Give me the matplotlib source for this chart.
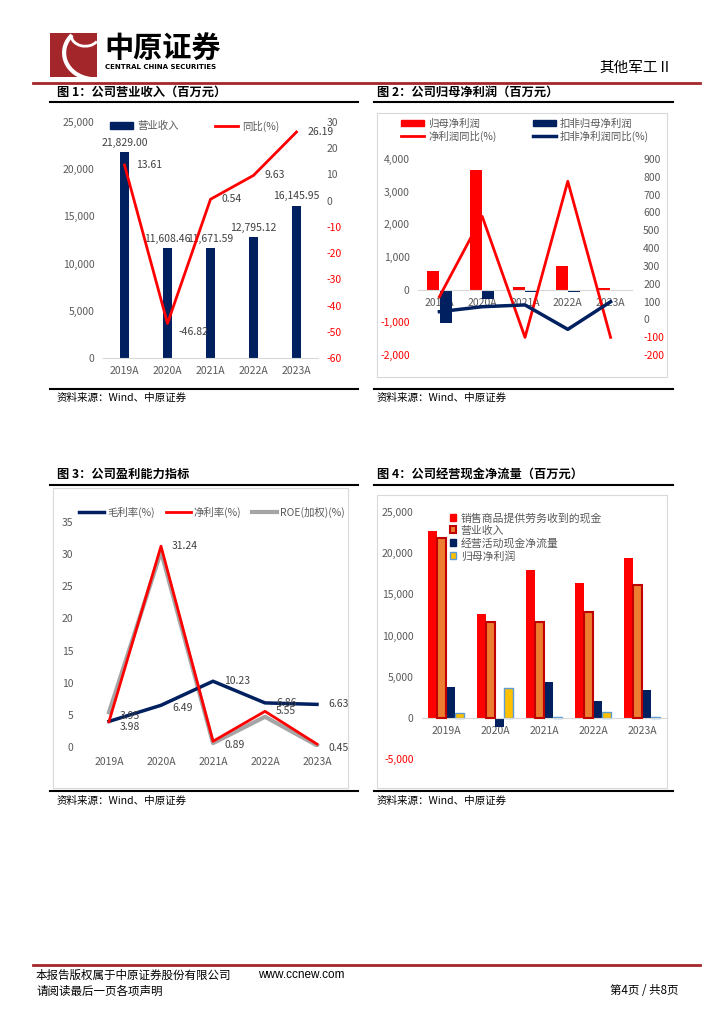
import matplotlib
matplotlib.use("Agg")
import matplotlib.pyplot as plt
from matplotlib.patches import Rectangle, Patch, Arc
from matplotlib.lines import Line2D
from matplotlib.ticker import FuncFormatter
import numpy as np

plt.rcParams['font.family'] = ['Noto Sans CJK SC', 'DejaVu Sans']
plt.rcParams['axes.unicode_minus'] = False

# ---- data ----
years = ["2019A", "2020A", "2021A", "2022A", "2023A"]

revenue = [21829.00, 11608.46, 11671.59, 12795.12, 16145.95]
revenue_yoy = [13.61, -46.82, 0.54, 9.63, 26.19]

net_profit = [560, 3670, 80, 710, 50]
net_profit_ded = [-1020, -290, -60, -80, -20]
net_profit_yoy = [127, 578, -101, 775, -101]
net_profit_ded_yoy = [43, 71, 81, -56, 99]

gross_margin = [3.98, 6.49, 10.23, 6.86, 6.63]
net_margin = [3.95, 31.24, 0.89, 5.55, 0.45]
roe = [5.4, 30.4, 0.6, 4.7, 0.25]

cash_from_sales = [22690, 12660, 18000, 16380, 19460]
op_cash_flow = [3720, -1090, 4370, 2020, 3320]

NAVY = '#002060'
RED = '#ff0000'
GRAY = '#595959'
DARKRED = '#a3262a'

W, H = 724, 1024
fig = plt.figure(figsize=(7.24, 10.24), dpi=100)


def fy(y):
    return 1 - y / H


def add_ax(x0, y0, x1, y1):
    return fig.add_axes([x0 / W, 1 - y1 / H, (x1 - x0) / W, (y1 - y0) / H])


def hline(x0, x1, y, color='black', lw=1.5):
    fig.add_artist(Line2D([x0 / W, x1 / W], [fy(y), fy(y)], color=color, lw=lw))


def frame(x0, y0, x1, y1):
    fig.add_artist(Rectangle((x0 / W, fy(y1)), (x1 - x0) / W, (y1 - y0) / H,
                             fill=False, ec='#d9d9d9', lw=0.8))


def txt(x, y, s, **kw):
    fig.text(x / W, fy(y), s, **kw)


def clean(ax, pad=4):
    for s in ax.spines.values():
        s.set_visible(False)
    ax.tick_params(length=0, labelsize=7.5, colors=GRAY, pad=pad)


def red_negatives(ax):
    for lab, v in zip(ax.get_yticklabels(), ax.get_yticks()):
        if v < 0:
            lab.set_color(RED)


thousands = FuncFormatter(lambda v, p: f'{v:,.0f}')
x = np.arange(len(years))

# ---- page header ----
logo = add_ax(50, 33, 97, 77)
logo.set_xlim(0, 1)
logo.set_ylim(0, 1)
logo.axis('off')
logo.add_patch(Rectangle((0, 0), 1, 1, color=DARKRED))
logo.add_patch(Arc((0.95, 0.55), 1.3, 1.2, theta1=140, theta2=260, color='white', lw=3))
logo.add_patch(Arc((0.75, 0.95), 0.6, 0.5, theta1=180, theta2=330, color='white', lw=2))
txt(104, 49, "中原证券", fontsize=21, fontweight='bold', va='center')
txt(105, 67, "CENTRAL CHINA SECURITIES", fontsize=5, fontweight='bold', va='center',
    family='DejaVu Sans')
txt(672, 68, "其他军工Ⅱ", fontsize=10.5, ha='right', va='center')
hline(33, 700, 83, DARKRED, 2)

# ---- titles / source lines ----
TS = 8.8
SS = 7.6
txt(57, 92, "图 1：公司营业收入（百万元）", fontsize=TS, fontweight='bold', va='center')
txt(377, 92, "图 2：公司归母净利润（百万元）", fontsize=TS, fontweight='bold', va='center')
hline(50, 358, 102)
hline(374, 673, 102)
hline(50, 358, 389)
hline(374, 673, 389)
txt(57, 398, "资料来源：Wind、中原证券", fontsize=SS, va='center')
txt(377, 398, "资料来源：Wind、中原证券", fontsize=SS, va='center')

txt(57, 474, "图 3：公司盈利能力指标", fontsize=TS, fontweight='bold', va='center')
txt(377, 474, "图 4：公司经营现金净流量（百万元）", fontsize=TS, fontweight='bold', va='center')
hline(50, 358, 485)
hline(374, 673, 485)
hline(50, 358, 791)
hline(374, 673, 791)
txt(57, 801, "资料来源：Wind、中原证券", fontsize=SS, va='center')
txt(377, 801, "资料来源：Wind、中原证券", fontsize=SS, va='center')

frame(377, 113, 667, 377)
frame(53, 488, 348, 788)
frame(377, 495, 667, 788)

# ---- chart 1 ----
ax1 = add_ax(103, 122, 318, 358)
ax1.bar(x, revenue, width=0.22, color=NAVY, zorder=2)
ax1.set_xlim(-0.5, 4.5)
ax1.set_ylim(0, 25000)
ax1.set_yticks(range(0, 25001, 5000))
ax1.yaxis.set_major_formatter(thousands)
ax1.set_xticks(x, years)
clean(ax1, pad=6)
ax1.spines['bottom'].set_visible(True)
ax1.spines['bottom'].set_color('#d9d9d9')
for i, v in enumerate(revenue):
    ax1.annotate(f'{v:,.2f}', (i, v), xytext=(0, 3), textcoords='offset points',
                 ha='center', va='bottom', fontsize=7.5, color='#404040')
ax1b = ax1.twinx()
ax1b.plot(x, revenue_yoy, color=RED, lw=2)
ax1b.set_ylim(-60, 30)
ax1b.set_yticks(range(-60, 31, 10))
clean(ax1b, pad=6)
red_negatives(ax1b)
for i, v in enumerate(revenue_yoy):
    dy = -6 if v < -20 else 0
    ax1b.annotate(f'{v:.2f}', (i, v), xytext=(8, dy), textcoords='offset points',
                  ha='left', va='center', fontsize=7.5, color='#404040')
ax1.legend([Patch(color=NAVY), Line2D([], [], color=RED, lw=2)], ["营业收入", "同比(%)"],
           loc='center', bbox_to_anchor=(195 / W, fy(126)), bbox_transform=fig.transFigure,
           ncol=2, frameon=False, fontsize=7.5, handlelength=2.2, handleheight=0.6,
           columnspacing=3.5, handletextpad=0.4, labelcolor=GRAY)

# ---- chart 2 ----
ax2 = add_ax(418, 159, 632, 355)
ax2.bar(x - 0.145, net_profit, width=0.28, color=RED, zorder=2)
ax2.bar(x + 0.145, net_profit_ded, width=0.28, color=NAVY, zorder=2)
ax2.set_xlim(-0.5, 4.5)
ax2.set_ylim(-2000, 4000)
ax2.set_yticks(range(-2000, 4001, 1000))
ax2.yaxis.set_major_formatter(thousands)
ax2.set_xticks(x, years)
clean(ax2, pad=6)
ax2.spines['bottom'].set_visible(True)
ax2.spines['bottom'].set_position(('data', 0))
ax2.spines['bottom'].set_color('#d9d9d9')
red_negatives(ax2)
ax2b = ax2.twinx()
ax2b.plot(x, net_profit_yoy, color=RED, lw=2)
ax2b.plot(x, net_profit_ded_yoy, color=NAVY, lw=2.5)
ax2b.set_ylim(-200, 900)
ax2b.set_yticks(range(-200, 901, 100))
clean(ax2b, pad=8)
red_negatives(ax2b)
ax2.legend([Patch(color=RED), Line2D([], [], color=RED, lw=2),
            Patch(color=NAVY), Line2D([], [], color=NAVY, lw=2.5)],
           ["归母净利润", "净利润同比(%)", "扣非归母净利润", "扣非净利润同比(%)"],
           loc='center', bbox_to_anchor=(525 / W, fy(130)), bbox_transform=fig.transFigure,
           ncol=2, frameon=False, fontsize=7.5, handlelength=2.2, handleheight=0.6,
           columnspacing=3.5, handletextpad=0.4, labelspacing=0.2, labelcolor=GRAY)

# ---- chart 3 ----
ax3 = add_ax(83, 522, 343, 747)
ax3.plot(x, gross_margin, color=NAVY, lw=2.5, zorder=3)
ax3.plot(x, roe, color='#a5a5a5', lw=3, zorder=2)
ax3.plot(x, net_margin, color=RED, lw=2, zorder=4)
ax3.set_xlim(-0.5, 4.5)
ax3.set_ylim(0, 35)
ax3.set_yticks(range(0, 36, 5))
ax3.set_xticks(x, years)
clean(ax3, pad=7)
for i, v in enumerate(gross_margin):
    dy = -4 if i == 0 else (-2 if i == 1 else 0)
    ax3.annotate(f'{v:.2f}', (i, v), xytext=(8, dy), textcoords='offset points',
                 ha='left', va='center', fontsize=7.5, color='#404040')
for i, v in enumerate(net_margin):
    dy = 4 if i == 0 else (-3 if v < 2 else 0)
    ax3.annotate(f'{v:.2f}', (i, v), xytext=(8, dy), textcoords='offset points',
                 ha='left', va='center', fontsize=7.5, color='#404040')
ax3.legend([Line2D([], [], color=NAVY, lw=2.5), Line2D([], [], color=RED, lw=2),
            Line2D([], [], color='#a5a5a5', lw=3)],
           ["毛利率(%)", "净利率(%)", "ROE(加权)(%)"],
           loc='center', bbox_to_anchor=(212 / W, fy(512)), bbox_transform=fig.transFigure,
           ncol=3, frameon=False, fontsize=7.5, handlelength=2.4,
           columnspacing=1.0, handletextpad=0.3, labelcolor=GRAY)

# ---- chart 4 ----
ax4 = add_ax(422, 512, 667, 759)
bw = 0.19
ax4.bar(x - 0.29, cash_from_sales, width=bw, color=RED, zorder=2)
ax4.bar(x - 0.10, revenue, width=bw, color='#ed7d31', edgecolor='#c00000', lw=1.5, zorder=3)
ax4.bar(x + 0.08, op_cash_flow, width=bw, color=NAVY, zorder=2)
ax4.bar(x + 0.26, net_profit, width=bw, color='#ffc000', edgecolor='#5b9bd5', lw=1, zorder=2)
ax4.set_xlim(-0.5, 4.5)
ax4.set_ylim(-5000, 25000)
ax4.set_yticks(range(-5000, 25001, 5000))
ax4.yaxis.set_major_formatter(thousands)
ax4.set_xticks(x, years)
clean(ax4, pad=6)
ax4.spines['bottom'].set_visible(True)
ax4.spines['bottom'].set_position(('data', 0))
ax4.spines['bottom'].set_color('#d9d9d9')
red_negatives(ax4)
ax4.legend([Patch(color=RED), Patch(fc='#ed7d31', ec='#c00000', lw=1.5),
            Patch(color=NAVY), Patch(fc='#ffc000', ec='#5b9bd5', lw=1)],
           ["销售商品提供劳务收到的现金", "营业收入", "经营活动现金净流量", "归母净利润"],
           loc='upper left', bbox_to_anchor=(440 / W, fy(503)), bbox_transform=fig.transFigure,
           frameon=False, fontsize=7.8, handlelength=0.6, handleheight=0.6,
           handletextpad=0.4, labelspacing=0.2, labelcolor=GRAY)

# ---- footer ----
FS = 8.3
hline(33, 700, 965, DARKRED, 2)
txt(36, 975, "本报告版权属于中原证券股份有限公司", fontsize=FS, va='center')
txt(258, 975, "www.ccnew.com", fontsize=8.5, va='center', family='Liberation Sans')
txt(36, 991, "请阅读最后一页各项声明", fontsize=FS, va='center')
txt(679, 991, "第4页 / 共8页", fontsize=FS, va='center', ha='right')

fig.savefig("out.png", dpi=100)
